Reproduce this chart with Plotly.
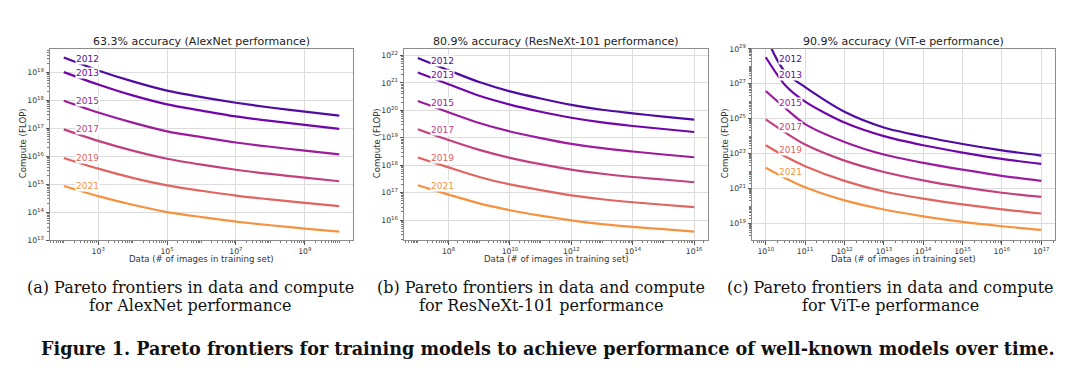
import plotly.graph_objects as go

# page body has an 8px margin: the figure is sized so that the whole window is used
OFF = 8
W, H = 1080 - 2 * OFF, 368 - 2 * OFF

years = ["2012", "2013", "2015", "2017", "2019", "2021"]
line_colors = ["#500ba2", "#7006a9", "#9c1c9d", "#c2407f", "#e0645f", "#f6923f"]

panel_titles = ["63.3% accuracy (AlexNet performance)",
                "80.9% accuracy (ResNeXt-101 performance)",
                "90.9% accuracy (ViT-e performance)"]
x_title = "Data (# of images in training set)"
y_title = "Compute (FLOP)"
caption_line1 = ["(a) Pareto frontiers in data and compute",
                 "(b) Pareto frontiers in data and compute",
                 "(c) Pareto frontiers in data and compute"]
caption_line2 = ["for AlexNet performance",
                 "for ResNeXt-101 performance",
                 "for ViT-e performance"]
figure_caption = "Figure 1. Pareto frontiers for training models to achieve performance of well-known models over time."

# ---- Panel (a): log10 of data / compute
a_x = [2, 3, 4, 5, 6, 7, 8, 9, 10]
a_2012 = [19.52, 19.06, 18.67, 18.34, 18.11, 17.91, 17.74, 17.59, 17.45]
a_2013 = [19.00, 18.56, 18.17, 17.85, 17.63, 17.42, 17.26, 17.12, 16.98]
a_2015 = [17.98, 17.56, 17.20, 16.89, 16.68, 16.49, 16.34, 16.20, 16.07]
a_2017 = [16.96, 16.55, 16.20, 15.91, 15.70, 15.52, 15.37, 15.24, 15.11]
a_2019 = [15.94, 15.56, 15.23, 14.96, 14.77, 14.60, 14.46, 14.34, 14.22]
a_2021 = [14.94, 14.58, 14.27, 14.01, 13.83, 13.67, 13.54, 13.42, 13.31]
a_label_x = 2.69
a_label_y = [19.46, 18.97, 17.96, 16.96, 15.94, 14.93]
a_xticks = [3, 5, 7, 9]
a_yticks = [13, 14, 15, 16, 17, 18, 19]

# ---- Panel (b)
b_x = [7, 8, 9, 10, 11, 12, 13, 14, 15, 16]
b_2012 = [21.91, 21.46, 21.03, 20.69, 20.43, 20.20, 20.02, 19.89, 19.77, 19.66]
b_2013 = [21.38, 20.95, 20.53, 20.21, 19.95, 19.73, 19.56, 19.43, 19.32, 19.21]
b_2015 = [20.34, 19.93, 19.54, 19.23, 18.99, 18.78, 18.62, 18.50, 18.39, 18.29]
b_2017 = [19.31, 18.92, 18.56, 18.27, 18.04, 17.84, 17.69, 17.57, 17.48, 17.38]
b_2019 = [18.28, 17.92, 17.57, 17.30, 17.09, 16.90, 16.76, 16.65, 16.56, 16.47]
b_2021 = [17.27, 16.93, 16.61, 16.36, 16.16, 15.99, 15.85, 15.75, 15.67, 15.58]
b_label_x = 7.80
b_label_y = [21.81, 21.29, 20.28, 19.28, 18.26, 17.24]
b_xticks = [8, 10, 12, 14, 16]
b_yticks = [16, 17, 18, 19, 20, 21, 22]

# ---- Panel (c)
c_x = [10, 10.5, 11, 12, 13, 14, 15, 16, 17]
c_x_2012 = [10.05, 10.15, 10.5, 11, 12, 13, 14, 15, 16, 17]
c_2012 = [29.9, 29.0, 27.65, 26.81, 25.40, 24.50, 23.98, 23.55, 23.19, 22.89]
c_2013 = [28.52, 26.90, 25.98, 24.78, 24.00, 23.48, 23.06, 22.70, 22.41]
c_2015 = [26.59, 25.60, 24.69, 23.67, 22.95, 22.47, 22.08, 21.73, 21.44]
c_2017 = [24.96, 24.20, 23.52, 22.60, 21.95, 21.47, 21.08, 20.76, 20.52]
c_2019 = [23.48, 22.83, 22.28, 21.44, 20.83, 20.42, 20.09, 19.81, 19.57]
c_2021 = [22.19, 21.59, 21.07, 20.32, 19.80, 19.41, 19.09, 18.84, 18.63]
c_label_x = 10.64
c_label_y = [28.40, 27.52, 25.91, 24.52, 23.21, 21.97]
c_xticks = [10, 11, 12, 13, 14, 15, 16, 17]
c_yticks = [19, 21, 23, 25, 27, 29]

panels = [
    dict(xs=[a_x] * 6, ys=[a_2012, a_2013, a_2015, a_2017, a_2019, a_2021],
         lx=a_label_x, ly=a_label_y, xt=a_xticks, yt=a_yticks,
         xr=[1.6, 10.4], yr=[13.0, 19.83], px=(50, 353), cap=190),
    dict(xs=[b_x] * 6, ys=[b_2012, b_2013, b_2015, b_2017, b_2019, b_2021],
         lx=b_label_x, ly=b_label_y, xt=b_xticks, yt=b_yticks,
         xr=[6.55, 16.45], yr=[15.26, 22.24], px=(404, 708), cap=541),
    dict(xs=[c_x_2012] + [c_x] * 5, ys=[c_2012, c_2013, c_2015, c_2017, c_2019, c_2021],
         lx=c_label_x, ly=c_label_y, xt=c_xticks, yt=c_yticks,
         xr=[9.65, 17.35], yr=[18.03, 29.0], px=(752, 1055), cap=890),
]


def fx(px):
    return (px - OFF) / W


def fy(px):
    return 1 - (px - OFF) / H


top_px, bot_px = 44, 241.7
ydom = [fy(bot_px), fy(top_px)]

fig = go.Figure()
annotations = []
font_sans = "DejaVu Sans"
grid_col = "#dcdcdc"
frame_col = "#8c8c8c"


def pw(e):
    return "10<sup>%d</sup>" % e


for i, p in enumerate(panels):
    k = "" if i == 0 else str(i + 1)
    xa, ya = "x" + k, "y" + k
    for j, yr in enumerate(years):
        fig.add_trace(go.Scatter(
            x=[10.0 ** v for v in p["xs"][j]], y=[10.0 ** v for v in p["ys"][j]],
            mode="lines", line=dict(color=line_colors[j], width=2.2, shape="spline", smoothing=0.8),
            xaxis=xa, yaxis=ya, showlegend=False, hoverinfo="skip"))
        annotations.append(dict(
            x=p["lx"], y=p["ly"][j], xref=xa, yref=ya, text=yr, showarrow=False,
            font=dict(family=font_sans, size=9, color=line_colors[j]),
            bgcolor="white", borderpad=0, xanchor="center", yanchor="middle"))
    x0, x1 = p["px"]
    dom = [fx(x0), fx(x1)]
    axis_common = dict(type="log", showgrid=True, gridcolor=grid_col, gridwidth=1,
                       showline=True, linecolor=frame_col, linewidth=1, mirror=True,
                       ticks="outside", ticklen=3.5, tickcolor="#555", tickwidth=0.8,
                       tickfont=dict(family=font_sans, size=7.7, color="#333"),
                       minor=dict(ticks="outside", ticklen=1.8, tickcolor="#777",
                                  tickwidth=0.6, dtick="D1", showgrid=False),
                       zeroline=False)
    fig.layout["xaxis" + k] = dict(axis_common, domain=dom, anchor=ya, range=p["xr"],
                                   tickvals=[10.0 ** e for e in p["xt"]],
                                   ticktext=[pw(e) for e in p["xt"]])
    fig.layout["yaxis" + k] = dict(axis_common, domain=ydom, anchor=xa, range=p["yr"],
                                   tickvals=[10.0 ** e for e in p["yt"]],
                                   ticktext=[pw(e) for e in p["yt"]])
    cx = fx((x0 + x1) / 2)
    annotations.append(dict(x=cx, y=fy(36.2), xref="paper", yref="paper",
                            text=panel_titles[i], showarrow=False,
                            font=dict(family=font_sans, size=11, color="#222"),
                            xanchor="center", yanchor="middle"))
    annotations.append(dict(x=cx, y=fy(260.5), xref="paper", yref="paper",
                            text=x_title, showarrow=False,
                            font=dict(family=font_sans, size=8.6, color="#333"),
                            xanchor="center", yanchor="middle"))
    annotations.append(dict(x=fx(x0 - 27.5), y=fy(142), xref="paper", yref="paper",
                            text=y_title, showarrow=False, textangle=-90,
                            font=dict(family=font_sans, size=8.6, color="#333"),
                            xanchor="center", yanchor="middle"))
    annotations.append(dict(x=fx(p["cap"]), y=fy(290), xref="paper", yref="paper",
                            text=caption_line1[i], showarrow=False,
                            font=dict(family="DejaVu Serif", size=16, color="#111"),
                            xanchor="center", yanchor="middle"))
    annotations.append(dict(x=fx(p["cap"]), y=fy(309), xref="paper", yref="paper",
                            text=caption_line2[i], showarrow=False,
                            font=dict(family="DejaVu Serif", size=16, color="#111"),
                            xanchor="center", yanchor="middle"))

annotations.append(dict(x=fx(548), y=fy(353.5), xref="paper", yref="paper",
                        text="<b>" + figure_caption + "</b>", showarrow=False,
                        font=dict(family="DejaVu Serif", size=17.6, color="#111"),
                        xanchor="center", yanchor="middle"))

fig.update_layout(width=W, height=H, margin=dict(l=0, r=0, t=0, b=0),
                  paper_bgcolor="white", plot_bgcolor="white",
                  annotations=annotations)

fig.write_html("out.html")
